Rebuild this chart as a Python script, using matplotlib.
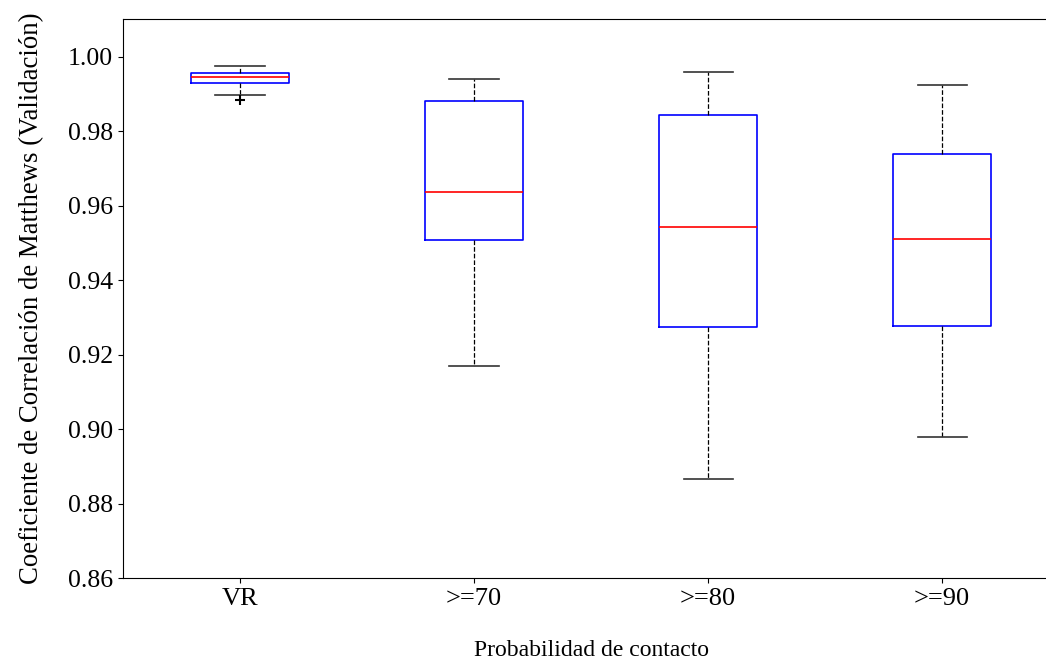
import matplotlib
matplotlib.use("Agg")
import matplotlib.pyplot as plt

plt.rcParams['font.family'] = ['Liberation Serif', 'DejaVu Serif']

categories = ["VR", ">=70", ">=80", ">=90"]
whislo = [0.9898, 0.9169, 0.8866, 0.8979]
q1 = [0.9930, 0.9508, 0.9274, 0.9277]
med = [0.9946, 0.9637, 0.9543, 0.9511]
q3 = [0.9957, 0.9882, 0.9845, 0.9739]
whishi = [0.9976, 0.9941, 0.9960, 0.9925]
fliers = [[0.9885], [], [], []]

stats = []
for i in range(len(categories)):
    stats.append(dict(label=categories[i], whislo=whislo[i], q1=q1[i], med=med[i],
                      q3=q3[i], whishi=whishi[i], fliers=fliers[i]))

fig = plt.figure(figsize=(10.46, 6.6), dpi=100)
ax = fig.add_axes([0.1176, 0.1242, 0.895, 0.847])

ax.bxp(stats, widths=0.42,
       boxprops=dict(color='blue', linewidth=1.2),
       medianprops=dict(color='red', linewidth=1.2),
       whiskerprops=dict(color='black', linestyle='--', linewidth=0.9),
       capprops=dict(color='#333333', linewidth=1.2),
       flierprops=dict(marker='+', markeredgecolor='black', markersize=7, markeredgewidth=1.5))

ax.set_xlim(0.5, 4.5)
ax.set_ylim(0.86, 1.0102)
ax.set_yticks([0.86, 0.88, 0.90, 0.92, 0.94, 0.96, 0.98, 1.00])
ax.set_yticklabels(["%.2f" % v for v in ax.get_yticks()])
ax.tick_params(axis='y', labelsize=18.5)
ax.tick_params(axis='x', labelsize=19)
ax.spines['right'].set_visible(False)
ax.set_ylabel("Coeficiente de Correlación de Matthews (Validación)", fontsize=19.3, labelpad=17)
ax.set_xlabel("Probabilidad de contacto", fontsize=17, labelpad=22)

fig.savefig("out.png", dpi=100)
